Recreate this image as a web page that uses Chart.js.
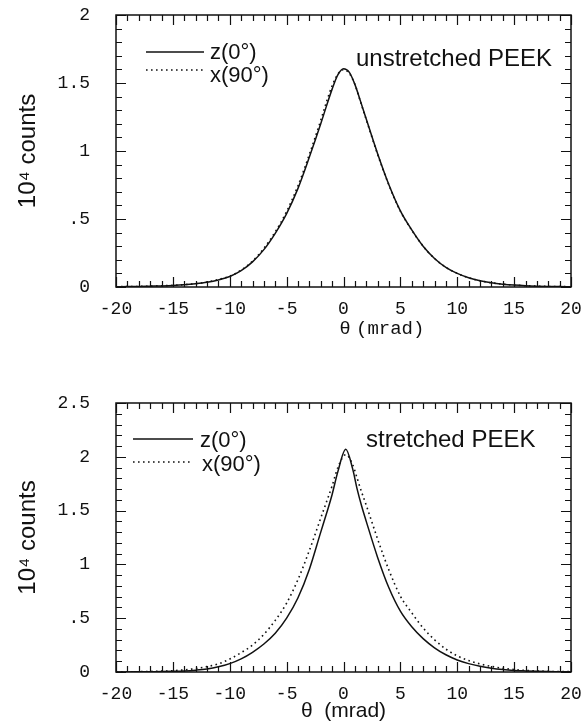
<!DOCTYPE html>
<html>
<head>
<meta charset="utf-8">
<script src="https://cdn.jsdelivr.net/npm/chart.js@4.4.0/dist/chart.umd.min.js"></script>
<style>
html,body{margin:0;padding:0;background:#fff;}
canvas{display:block;}
</style>
</head>
<body>
<canvas id="c1" width="582" height="362"></canvas>
<canvas id="c2" width="582" height="362"></canvas>
<script>
// ---------- data ----------
const thetaTop = [-20,-19,-18,-17,-16,-15,-14,-13,-12,-11,-10,-9,-8,-7,-6,-5,-4,-3,-2,-1.5,-1,-0.5,0,0.5,1,1.5,2,3,4,5,6,7,8,9,10,11,12,13,14,15,16,17,18,19,20];
const zTop     = [0.002,0.003,0.004,0.006,0.008,0.011,0.016,0.024,0.035,0.052,0.077,0.12,0.185,0.275,0.395,0.54,0.725,0.955,1.20,1.33,1.455,1.56,1.605,1.58,1.49,1.365,1.235,0.98,0.75,0.56,0.42,0.30,0.21,0.145,0.10,0.068,0.046,0.031,0.021,0.014,0.009,0.006,0.004,0.003,0.002];
const xTop     = [0.002,0.003,0.004,0.006,0.009,0.012,0.017,0.025,0.037,0.055,0.08,0.125,0.19,0.285,0.405,0.555,0.745,0.975,1.225,1.36,1.48,1.565,1.598,1.572,1.49,1.36,1.23,0.975,0.748,0.558,0.418,0.30,0.21,0.145,0.10,0.068,0.046,0.031,0.021,0.014,0.009,0.006,0.004,0.003,0.002];

const thetaBottom = [-20,-19,-18,-17,-16,-15,-14,-13,-12,-11,-10,-9,-8,-7,-6,-5,-4,-3,-2,-1.5,-1,-0.5,0.2,0.8,1.2,1.6,2,3,4,5,6,7,8,9,10,11,12,13,14,15,16,17,18,19,20];
const zBottom     = [0.001,0.001,0.002,0.003,0.004,0.006,0.01,0.017,0.028,0.048,0.078,0.122,0.183,0.26,0.36,0.50,0.69,0.955,1.30,1.47,1.65,1.86,2.07,1.89,1.70,1.54,1.40,1.065,0.78,0.565,0.42,0.31,0.225,0.16,0.112,0.078,0.053,0.035,0.023,0.015,0.01,0.006,0.004,0.003,0.002];
const xBottom     = [0.002,0.002,0.003,0.005,0.008,0.012,0.02,0.032,0.05,0.076,0.12,0.18,0.25,0.35,0.48,0.64,0.86,1.13,1.43,1.58,1.73,1.90,2.02,1.93,1.80,1.67,1.55,1.235,0.945,0.705,0.55,0.41,0.30,0.213,0.15,0.107,0.075,0.052,0.035,0.023,0.015,0.01,0.006,0.004,0.003];

const seriesNames = ['z(0°)', 'x(90°)'];
const panelNames = ['unstretched PEEK', 'stretched PEEK'];
const xTickLabels = ['-20','-15','-10','-5','0','5','10','15','20'];
const yTickLabelsTop = ['0','.5','1','1.5','2'];
const yTickLabelsBottom = ['0','.5','1','1.5','2','2.5'];
const yAxisTitle = '10⁴ counts';
const xAxisTitleTop = ['θ', '(mrad)'];
const xAxisTitleBottom = 'θ  (mrad)';

// ---------- styles ----------
const INK = '#111';
const SANS = '"Liberation Sans", Arial, "DejaVu Sans", sans-serif';
const MONO = '"Liberation Mono", "DejaVu Sans Mono", monospace';

const framePlugin = {
  id: 'frameTicks',
  afterDatasetsDraw(chart) {
    const {ctx, chartArea: a, scales: {x, y}} = chart;
    ctx.save();
    ctx.strokeStyle = INK;
    ctx.lineWidth = 1.5;
    ctx.strokeRect(a.left, a.top, a.right - a.left, a.bottom - a.top);
    ctx.lineWidth = 1.2;
    ctx.beginPath();
    const nx = Math.round((x.max - x.min) / 1);
    for (let i = 0; i <= nx; i++) {
      const v = x.min + i;
      const px = Math.round(x.getPixelForValue(v)) + 0.5;
      const L = (i % 5 === 0) ? 10 : 6;
      ctx.moveTo(px, a.bottom); ctx.lineTo(px, a.bottom - L);
      ctx.moveTo(px, a.top); ctx.lineTo(px, a.top + L);
    }
    const ny = Math.round((y.max - y.min) / 0.1);
    for (let i = 0; i <= ny; i++) {
      const v = y.min + i * 0.1;
      const py = Math.round(y.getPixelForValue(v)) + 0.5;
      const L = (i % 5 === 0) ? 10 : 6;
      ctx.moveTo(a.left, py); ctx.lineTo(a.left + L, py);
      ctx.moveTo(a.right, py); ctx.lineTo(a.right - L, py);
    }
    ctx.stroke();
    ctx.restore();
  }
};

const insideLegend = {
  id: 'insideLegend',
  afterDatasetsDraw(chart, args, opts) {
    if (!opts || !opts.items) return;
    const ctx = chart.ctx;
    ctx.save();
    chart.data.datasets.forEach((ds, i) => {
      const it = opts.items[i];
      ctx.strokeStyle = ds.borderColor;
      ctx.lineWidth = ds.borderWidth;
      ctx.setLineDash(ds.borderDash || []);
      ctx.beginPath();
      ctx.moveTo(opts.x0, it.lineY);
      ctx.lineTo(opts.x1, it.lineY);
      ctx.stroke();
      ctx.setLineDash([]);
      ctx.fillStyle = INK;
      ctx.font = '22px ' + SANS;
      ctx.textAlign = 'left';
      ctx.textBaseline = 'middle';
      ctx.fillText(ds.label, it.textX, it.textY);
    });
    ctx.restore();
  }
};

const panelLabel = {
  id: 'panelLabel',
  afterDatasetsDraw(chart, args, opts) {
    if (!opts || !opts.text) return;
    const ctx = chart.ctx;
    ctx.save();
    ctx.fillStyle = INK;
    ctx.font = '24px ' + SANS;
    ctx.textAlign = 'left';
    ctx.textBaseline = 'alphabetic';
    ctx.fillText(opts.text, opts.x, opts.y);
    ctx.restore();
  }
};

const mixedXTitle = {
  id: 'mixedXTitle',
  afterDraw(chart, args, opts) {
    if (!opts || !opts.parts) return;
    const ctx = chart.ctx;
    ctx.save();
    ctx.fillStyle = INK;
    ctx.textBaseline = 'middle';
    ctx.textAlign = 'center';
    ctx.font = '19px ' + SANS;
    ctx.fillText(opts.parts[0], opts.x, opts.y);
    ctx.textAlign = 'left';
    ctx.font = '19px ' + MONO;
    ctx.fillText(opts.parts[1], opts.x + 11, opts.y);
    ctx.restore();
  }
};

function makeChart(id, cfg) {
  const pts = (xs, ys) => xs.map((t, i) => ({x: t, y: ys[i]}));
  return new Chart(document.getElementById(id), {
    type: 'line',
    data: {
      datasets: [
        {label: seriesNames[0], data: pts(cfg.theta, cfg.z), borderColor: INK, borderWidth: 1.5,
         pointRadius: 0, fill: false, cubicInterpolationMode: 'monotone'},
        {label: seriesNames[1], data: pts(cfg.theta, cfg.x), borderColor: INK, borderWidth: 1.6,
         borderDash: [1.6, 3.4], pointRadius: 0, fill: false, cubicInterpolationMode: 'monotone'}
      ]
    },
    options: {
      responsive: false,
      animation: false,
      devicePixelRatio: 1,
      layout: {padding: {top: cfg.top, right: 11, left: 0, bottom: 0}},
      plugins: {
        legend: {display: false},
        tooltip: {enabled: false},
        insideLegend: cfg.legend,
        panelLabel: cfg.panel,
        mixedXTitle: cfg.mixedTitle || {}
      },
      scales: {
        x: {
          type: 'linear', min: -20, max: 20,
          grid: {display: false, drawTicks: false},
          border: {display: false},
          ticks: {
            stepSize: 5, autoSkip: false, maxRotation: 0, padding: 11,
            color: INK, font: {family: MONO, size: 18},
            callback: (v, i) => xTickLabels[i]
          },
          title: cfg.xTitle ? {display: true, text: cfg.xTitle, color: INK,
                  font: {family: SANS, size: 21}, padding: {top: 0, bottom: 0}} : {display: false},
          afterFit: s => { s.height = cfg.xh; s.paddingLeft = 0; s.paddingRight = 0; }
        },
        y: {
          min: 0, max: cfg.ymax,
          grid: {display: false, drawTicks: false},
          border: {display: false},
          ticks: {
            stepSize: 0.5, autoSkip: false, padding: 26,
            color: INK, font: {family: MONO, size: 18},
            callback: (v, i) => cfg.yLabels[i]
          },
          title: {display: true, text: yAxisTitle, color: INK,
                  font: {family: SANS, size: 24}, padding: {top: 14, bottom: 0}},
          afterFit: s => { s.width = 116; s.paddingTop = 0; s.paddingBottom = 0; }
        }
      }
    },
    plugins: [framePlugin, insideLegend, panelLabel, mixedXTitle]
  });
}

makeChart('c1', {
  theta: thetaTop, z: zTop, x: xTop, ymax: 2, yLabels: yTickLabelsTop,
  top: 15, xh: 75,
  legend: {x0: 146, x1: 204, items: [{lineY: 52, textX: 210, textY: 53}, {lineY: 70, textX: 210, textY: 76}]},
  panel: {text: panelNames[0], x: 356, y: 66},
  mixedTitle: {parts: xAxisTitleTop, x: 345, y: 329}
});

makeChart('c2', {
  theta: thetaBottom, z: zBottom, x: xBottom, ymax: 2.5, yLabels: yTickLabelsBottom,
  top: 41, xh: 52, xTitle: xAxisTitleBottom,
  legend: {x0: 133, x1: 193, items: [{lineY: 77, textX: 200, textY: 79}, {lineY: 100, textX: 202, textY: 103}]},
  panel: {text: panelNames[1], x: 366, y: 85}
});
</script>
</body>
</html>
